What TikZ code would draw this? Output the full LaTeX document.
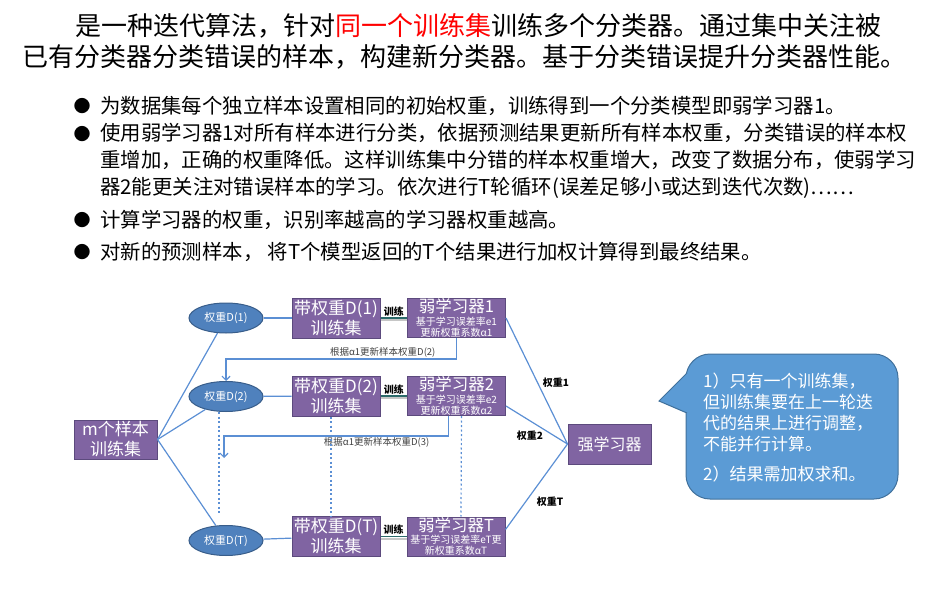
\documentclass[tikz,border=0pt]{standalone}
\usepackage{fontspec}
\setmainfont{Noto Sans CJK SC}
\usetikzlibrary{arrows.meta,positioning,shapes.geometric}
\definecolor{purp}{HTML}{8064A2}
\definecolor{purpdk}{HTML}{5C4A7D}
\definecolor{ovl}{HTML}{4F81BD}
\definecolor{ovldk}{HTML}{385D8A}
\definecolor{lnk}{HTML}{5B8FD4}
\definecolor{tip}{HTML}{5B9BD5}
\definecolor{tipdk}{HTML}{41719C}
\definecolor{trn}{HTML}{2B6A6A}
\newcommand{\fs}[2]{\fontsize{#1}{#2}\selectfont}

\begin{document}
\begin{tikzpicture}[x=1pt,y=-1pt,>={Straight Barb[length=4pt,width=8pt]},
 txt/.style={anchor=west,inner sep=0,align=left},
 box/.style={draw=purpdk,fill=purp,text=white,line width=1,minimum width=88,minimum height=40,inner sep=0,align=center,font=\fs{17}{20}},
 lrn/.style={box,minimum width=98,minimum height=39,font=\fs{10}{11}},
 wt/.style={draw=ovldk,fill=ovl,text=white,line width=1,ellipse,minimum width=74,minimum height=30,inner sep=0,font=\fs{11}{12}},
 lk/.style={lnk,line width=1.2},
 dots/.style={lnk,line width=1.2,dash pattern=on 2pt off 2.5pt},
 fb/.style={font=\fs{9.5}{10},text=black!75,inner sep=1},
 wl/.style={font=\bfseries\fs{10}{11},inner sep=0}]
\useasboundingbox(0,0)rectangle(938,599);
\node[txt,font=\fs{26}{31}]at(75,26)(t1){是一种迭代算法，针对\textcolor{red}{同一个训练集}训练多个分类器。通过集中关注被};
\node[txt,font=\fs{26}{31}]at(22,57)(t2){已有分类器分类错误的样本，构建新分类器。基于分类错误提升分类器性能。};
\node[inner sep=0,font=\fs{17}{17}]at(82,106)(d1){●};
\node[inner sep=0,font=\fs{17}{17}]at(82,134)(d2){●};
\node[inner sep=0,font=\fs{17}{17}]at(82,220)(d3){●};
\node[inner sep=0,font=\fs{17}{17}]at(82,252)(d4){●};
\node[txt,font=\fs{20.4}{27}]at(100,106)(b1){为数据集每个独立样本设置相同的初始权重，训练得到一个分类模型即弱学习器1。};
\node[txt,font=\fs{20.4}{27}]at(100,161)(b2){使用弱学习器1对所有样本进行分类，依据预测结果更新所有样本权重，分类错误的样本权\\重增加，正确的权重降低。这样训练集中分错的样本权重增大，改变了数据分布，使弱学习\\器2能更关注对错误样本的学习。依次进行T轮循环(误差足够小或达到迭代次数)……};
\node[txt,font=\fs{20.4}{27}]at(100,220)(b3){计算学习器的权重，识别率越高的学习器权重越高。};
\node[txt,font=\fs{20.4}{27}]at(100,252)(b4){对新的预测样本， 将T个模型返回的T个结果进行加权计算得到最终结果。};

\node[box,minimum width=83,minimum height=39]at(115.5,439.5)(m){m个样本\\训练集};
\node[wt]at(226,318)(e1){权重D(1)};
\node[wt]at(226,396.5)(e2){权重D(2)};
\node[wt]at(226,540.5)(eT){权重D(T)};
\node[box]at(336,318)(s1){带权重D(1)\\训练集};
\node[box]at(336,396)(s2){带权重D(2)\\训练集};
\node[box]at(336,536.5)(sT){带权重D(T)\\训练集};
\node[lrn]at(456.5,318)(w1){{\fs{16.5}{18}弱学习器1}\\[1.5pt]基于学习误差率e1\\更新权重系数α1};
\node[lrn]at(456.5,396)(w2){{\fs{16.5}{18}弱学习器2}\\[1.5pt]基于学习误差率e2\\更新权重系数α2};
\node[lrn]at(456,536.5)(wT){{\fs{16.5}{18}弱学习器T}\\[1.5pt]基于学习误差率eT更\\新权重系数αT};
\node[box,minimum width=83,font=\fs{16}{18}]at(609.5,444)(s){强学习器};

\draw[lk](m.east)--(e1);
\draw[lk](m.east)--(e2);
\draw[lk](m.east)--(eT);
\foreach \i in {1,2,T}{
 \draw[lk](e\i)--(s\i);
 \draw[gray!45,line width=2]([yshift=-2]s\i.east)--([yshift=-2]w\i.west);
 \draw[trn,line width=1.4](s\i)--(w\i)node[midway,above=1pt,text=black,font=\bfseries\fs{10}{11},inner sep=0]{训练};
}
\draw[lk,->](w1.south)--++(0,21)-|(e2.north)node[fb,pos=.16,above]{根据α1更新样本权重D(2)};
\coordinate(c3)at(224,458);
\draw[lk,->]([xshift=-8]w2.south)--++(0,20)-|(c3)node[fb,pos=.16,below]{根据α1更新样本权重D(3)};
\draw[dots]([xshift=-7]e2.south)--([xshift=-7,yshift=10]eT.north);
\draw[dots]([xshift=-5]s2.south)--([xshift=-5]sT.north);
\draw[dots]([xshift=5]w2.south)--([xshift=5]wT.north);
\draw[lk](w1.east)--(s.west);
\draw[lk]([yshift=-10]w2.east)--(s.west);
\draw[lk]([yshift=7]wT.east)--(s.west);
\node[wl]at(556,383)(l1){权重1};
\node[wl]at(530,436)(l2){权重2};
\node[wl]at(550,502)(lT){权重T};

\node[draw=tipdk,fill=tip,line width=1,rounded corners=24,minimum width=212,minimum height=145,inner sep=0]at(792,426.5)(nb){};
\fill[tip](688.5,372)--(659,401)--(688.5,414)--cycle;
\draw[tipdk,line width=1](687,373)--(659,401)--(687,413);
\node[anchor=north west,inner sep=0,align=left,text=white,font=\fs{17}{21}]at(703,373)(nt){1）只有一个训练集，\\但训练集要在上一轮迭\\代的结果上进行调整，\\不能并行计算。\\[9pt]2）结果需加权求和。};
\end{tikzpicture}
\end{document}
